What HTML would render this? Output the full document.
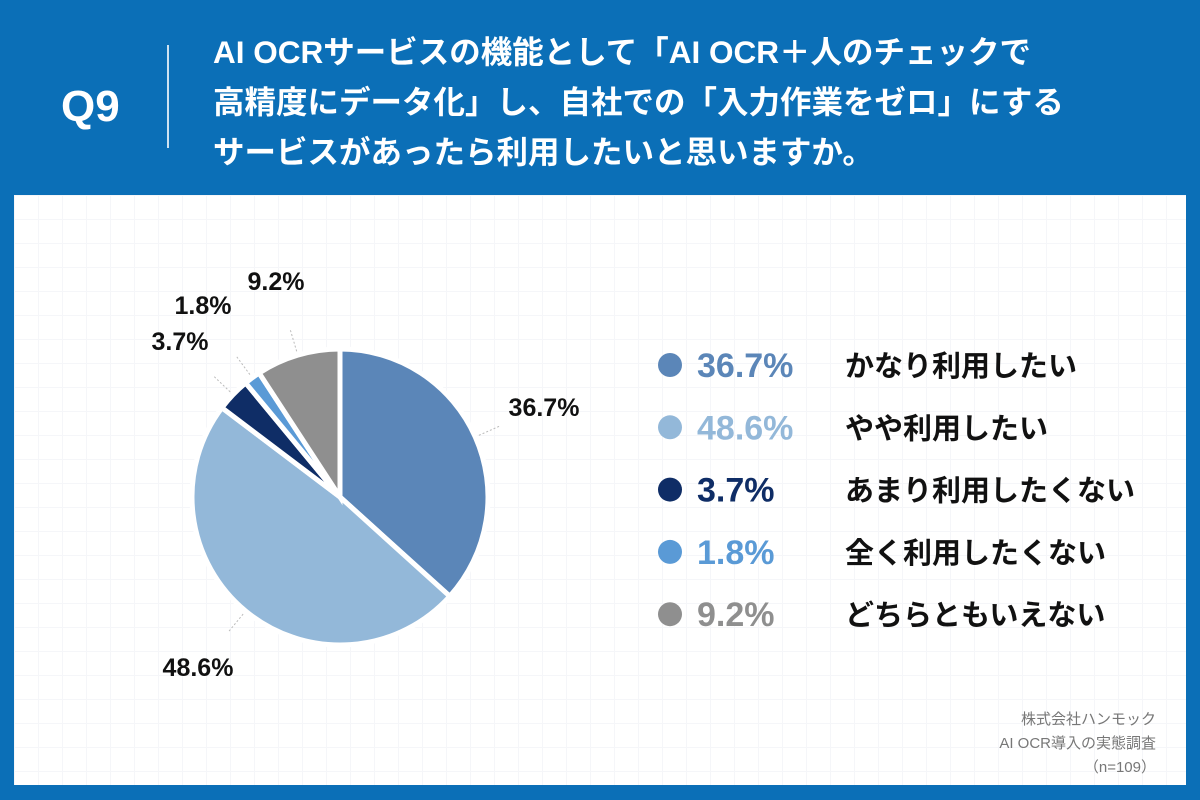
<!DOCTYPE html>
<html><head><meta charset="utf-8"><style>
body{margin:0;width:1200px;height:800px;background:#0b6fb7;font-family:"Liberation Sans","Noto Sans CJK JP",sans-serif;position:relative;overflow:hidden}
.abs{position:absolute}
#panel{left:14px;top:195px;width:1172px;height:590px;background:#fff;background-image:linear-gradient(#f5f6f9 1px,transparent 1px),linear-gradient(90deg,#f5f6f9 1px,transparent 1px);background-size:24px 24px}
.title{left:213px;top:27px;color:#fff;font-weight:bold;font-size:31.5px;line-height:50px;white-space:nowrap}
.q{left:61px;top:82px;color:#fff;font-weight:bold;font-size:44px}
</style></head><body>
<div id="panel" class="abs"></div>
<div class="abs q">Q9</div>
<div class="abs" style="left:167px;top:45px;width:2px;height:103px;background:#fff;opacity:.8"></div>
<div class="abs title">AI OCRサービスの機能として「AI OCR＋人のチェックで<br>高精度にデータ化」し、自社での「入力作業をゼロ」にする<br>サービスがあったら利用したいと思いますか。</div>
<svg class="abs" style="left:0;top:0" width="1200" height="800" id="chart"></svg>
<div class="abs" style="right:44px;top:708px;text-align:right;color:#777;font-size:15px;line-height:24px">株式会社ハンモック<br>AI OCR導入の実態調査<br>（n=109）</div>
<script>
const categories=["かなり利用したい","やや利用したい","あまり利用したくない","全く利用したくない","どちらともいえない"];
const values=[36.7,48.6,3.7,1.8,9.2];
const colors=["#5b86b8","#93b8d9","#0f2d66","#5a9ad6","#8f8f8f"];
const labelPos=[[544,416],[198,676],[180,350],[203,314],[276,290]];
const svg=document.getElementById('chart');
const NS="http://www.w3.org/2000/svg";
const cx=340,cy=497,r=148;
const total=values.reduce((a,b)=>a+b,0);
let a0=0;
function pt(a,rr){return [cx+rr*Math.sin(a),cy-rr*Math.cos(a)];}
values.forEach((v,i)=>{
 const a1=a0+v/total*2*Math.PI;
 const p0=pt(a0,r),p1=pt(a1,r);
 const large=(a1-a0)>Math.PI?1:0;
 const path=document.createElementNS(NS,'path');
 path.setAttribute('d',`M${cx},${cy}L${p0[0]},${p0[1]}A${r},${r} 0 ${large} 1 ${p1[0]},${p1[1]}Z`);
 path.setAttribute('fill',colors[i]);path.setAttribute('stroke','#fff');path.setAttribute('stroke-width','5');
 
 
 svg.appendChild(path);
 const am=(a0+a1)/2;const e=pt(am,r+4),f=pt(am,r+26);
 const ln=document.createElementNS(NS,'line');
 ln.setAttribute('x1',e[0]);ln.setAttribute('y1',e[1]);ln.setAttribute('x2',f[0]);ln.setAttribute('y2',f[1]);
 ln.setAttribute('stroke','#bbb');ln.setAttribute('stroke-dasharray','2,2');
 
 
 svg.appendChild(ln);
 const t=document.createElementNS(NS,'text');
 t.setAttribute('x',labelPos[i][0]);t.setAttribute('y',labelPos[i][1]);
 t.setAttribute('text-anchor','middle');t.setAttribute('font-size','25');t.setAttribute('font-weight','bold');
 t.setAttribute('font-family','"Liberation Sans",sans-serif');t.setAttribute('fill','#111');
 t.textContent=v.toFixed(1)+'%';
 
 
 svg.appendChild(t);
 const ly=365+i*62.3;
 const c=document.createElementNS(NS,'circle');
 c.setAttribute('cx',670);c.setAttribute('cy',ly);c.setAttribute('r',12);c.setAttribute('fill',colors[i]);
 
 
 svg.appendChild(c);
 const pv=document.createElementNS(NS,'text');
 pv.setAttribute('x',697);pv.setAttribute('y',ly+12);pv.setAttribute('font-size','34');pv.setAttribute('font-weight','bold');
 pv.setAttribute('font-family','"Liberation Sans",sans-serif');pv.setAttribute('fill',colors[i]);
 pv.textContent=v.toFixed(1)+'%';
 
 
 svg.appendChild(pv);
 const lt=document.createElementNS(NS,'text');
 lt.setAttribute('x',845);lt.setAttribute('y',ly+11);lt.setAttribute('font-size','29');lt.setAttribute('font-weight','bold');
 lt.setAttribute('font-family','"Liberation Sans","Noto Sans CJK JP",sans-serif');lt.setAttribute('fill','#111');
 lt.textContent=categories[i];
 
 
 svg.appendChild(lt);
 a0=a1;
});
</script>
</body></html>
